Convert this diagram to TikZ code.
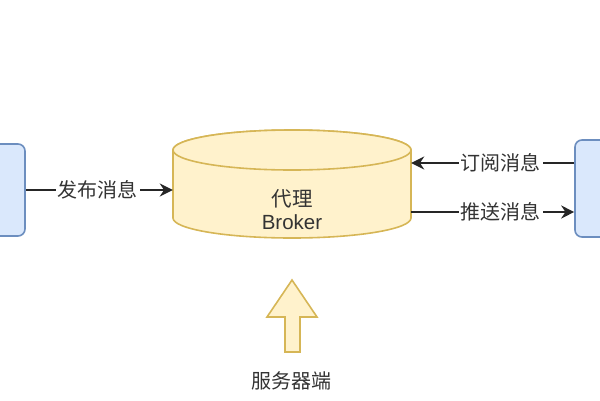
\documentclass[tikz,border=0pt]{standalone}
\usepackage{fontspec}
\setmainfont{Liberation Sans}
\newfontfamily\cjk{Noto Sans CJK SC}
\usetikzlibrary{arrows.meta}
\definecolor{bluefill}{HTML}{DAE8FC}
\definecolor{bluedraw}{HTML}{6C8EBF}
\definecolor{yelfill}{HTML}{FFF2CC}
\definecolor{yeldraw}{HTML}{D6B656}
\definecolor{txt}{HTML}{333333}
\tikzset{
  client/.style={draw=bluedraw, fill=bluefill, line width=1.6pt, rounded corners=7pt, minimum width=40pt, minimum height=92pt, inner sep=0pt},
  arr/.style={draw=black!85, line width=2pt, -{Stealth[length=13pt,width=13pt]}},
  lbl/.style={fill=white, text=txt, font=\cjk\fontsize{20}{22}\selectfont, inner sep=2pt},
  cyl/.style={draw=yeldraw, fill=yelfill, line width=1.6pt},
}
\begin{document}
\begin{tikzpicture}[x=1pt,y=-1pt]
\useasboundingbox (0,0) rectangle (600,400);
% clients
\node[client] (pub) at (5,190) {};
\node[client, minimum height=97pt] (sub) at (595,188.5) {};
% broker cylinder
\path[cyl] (173,150) -- (173,218) arc[start angle=180, end angle=0, x radius=119, y radius=20] -- (411,150) arc[start angle=0, end angle=-180, x radius=119, y radius=20] -- cycle;
\path[cyl] (292,150) ellipse[x radius=119, y radius=20];
\node[minimum width=238pt, minimum height=108pt, inner sep=0pt] (broker) at (292,184) {};
\node[text=txt, align=center, font=\fontsize{20.5}{23}\selectfont] (btext) at (292,210) {{\cjk 代理}\\Broker};
% connectors
\draw[arr] (pub.east |- 0,190) -- (broker.west |- 0,190) node[lbl, pos=0.49] (l1) {发布消息};
\draw[arr] (sub.west |- 0,163) -- (broker.east |- 0,163) node[lbl, pos=0.45] (l2) {订阅消息};
\draw[arr] (broker.east |- 0,212) -- (sub.west |- 0,212) node[lbl, pos=0.55] (l3) {推送消息};
% server arrow
\path[cyl, line join=miter] (292,280) -- (317,317) -- (300,317) -- (300,352) -- (285,352) -- (285,317) -- (267,317) -- cycle;
\coordinate (tip) at (292,280);
\node[text=txt, font=\cjk\fontsize{20}{22}\selectfont] (server) at (291,381) {服务器端};
\end{tikzpicture}
\end{document}
